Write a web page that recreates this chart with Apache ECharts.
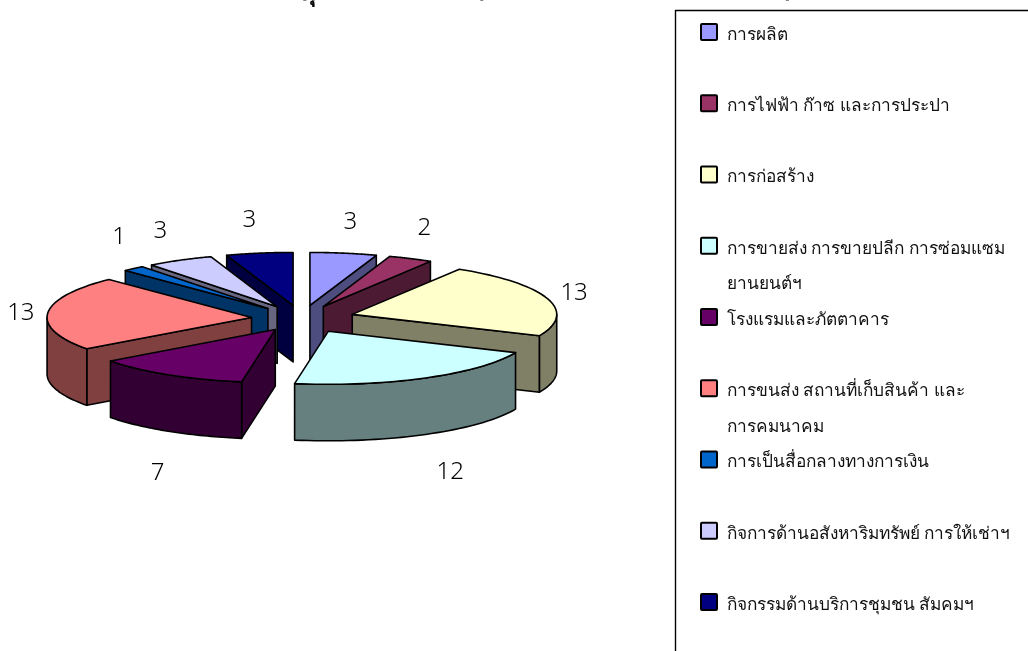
<!DOCTYPE html>
<html>
<head>
<meta charset="utf-8">
<script src="https://cdn.jsdelivr.net/npm/echarts@6/dist/echarts.min.js"></script>
<style>
  html, body { margin: 0; padding: 0; background: #fff; }
  #chart { width: 1028px; height: 651px; }
</style>
</head>
<body>
<div id="chart"></div>
<script>
const categories = [
  'การผลิต',
  'การไฟฟ้า ก๊าซ และการประปา',
  'การก่อสร้าง',
  'การขายส่ง การขายปลีก การซ่อมแซม\nยานยนต์ฯ',
  'โรงแรมและภัตตาคาร',
  'การขนส่ง สถานที่เก็บสินค้า และ\nการคมนาคม',
  'การเป็นสื่อกลางทางการเงิน',
  'กิจการด้านอสังหาริมทรัพย์ การให้เช่าฯ',
  'กิจกรรมด้านบริการชุมชน สัมคมฯ'
]
const values = [3, 2, 13, 12, 7, 13, 1, 3, 3]
const colors = ['#9999FF', '#993366', '#FFFFCC', '#CCFFFF', '#660066', '#FF8080', '#0066CC', '#CCCCFF', '#000080']
const sideColors = ['#4D4D80', '#4D1A33', '#808066', '#668080', '#330033', '#804040', '#003366', '#666680', '#000040']

// how far each slice is pulled out, share of the radius
const explodeShare = [0.25, 0.25, 0.26, 0.275, 0.245, 0.245, 0.25, 0.25, 0.25]
// gap between the exploded rim and each value label, horizontal / vertical
const labelGapX = [41, 32, 30, 57, 19, 26, 22, 41, 61]
const labelGapY = [31, 34, 20, 109, 115, 0, 41, 33, 33]

const cx = 301.5, cy = 318.5, rx = 204.5, ry = 53, depth = 56.5
const total = values.reduce((a, b) => a + b, 0)
const fontName = '"Noto Sans", "DejaVu Sans", sans-serif'

// screen position on the tilted ellipse, angle in radians clockwise from 12 o'clock
const rim = (o, a) => [o[0] + Math.sin(a) * rx, o[1] - Math.cos(a) * ry]
const sumBefore = i => values.slice(0, i).reduce((a, b) => a + b, 0)

function wall(points, fill) {
  return { type: 'polygon', shape: { points }, style: { fill, stroke: '#000', lineWidth: 1.6, lineJoin: 'round' } }
}

function renderSlice(params, api) {
  const value = api.value(0)
  const idx = api.value(1)
  const a0 = sumBefore(idx) / total * Math.PI * 2
  const a1 = (sumBefore(idx) + value) / total * Math.PI * 2
  const mid = (a0 + a1) / 2
  const e = explodeShare[idx]
  const apex = [cx + Math.sin(mid) * rx * e, cy - Math.cos(mid) * ry * e]
  const drop = p => [p[0], p[1] + depth]
  const children = []

  // flat walls, only where the slice lies above the edge on screen
  const inner = rim(apex, mid)
  ;[a0, a1].forEach(a => {
    const p = rim(apex, a)
    if (Math.abs(p[0] - apex[0]) < 1) return
    const edgeY = apex[1] + (p[1] - apex[1]) * (inner[0] - apex[0]) / (p[0] - apex[0])
    if (inner[1] < edgeY) children.push(wall([apex, p, drop(p), drop(apex)], sideColors[idx]))
  })

  // curved wall, front half of the ellipse only
  const from = Math.max(a0, Math.PI / 2)
  const to = Math.min(a1, Math.PI * 1.5)
  if (to > from) {
    const top = [], bottom = []
    for (let i = 0; i <= 40; i++) {
      const p = rim(apex, from + (to - from) * i / 40)
      top.push(p)
      bottom.unshift(drop(p))
    }
    children.push(wall(top.concat(bottom), sideColors[idx]))
  }

  // top face
  const face = [apex]
  for (let i = 0; i <= 40; i++) face.push(rim(apex, a0 + (a1 - a0) * i / 40))
  children.push(wall(face, colors[idx]))

  // value label
  children.push({
    type: 'text',
    style: {
      text: String(value),
      x: cx + Math.sin(mid) * (rx * 1.25 + labelGapX[idx]),
      y: cy - Math.cos(mid) * (ry * 1.25 + labelGapY[idx]),
      align: 'center', verticalAlign: 'middle',
      font: '300 24px ' + fontName, fill: '#000'
    }
  })
  return { type: 'group', children }
}

// back slices first, so that the front ones cover them
const drawOrder = values.map((v, i) => i).sort((a, b) => {
  const depthOf = i => -Math.cos((sumBefore(i) + values[i] / 2) / total * Math.PI * 2)
  return depthOf(a) - depthOf(b)
})

// the legend has uneven wrapped rows on an even pitch, so it is laid out by hand
const legendX = 701, legendFirst = 32, legendPitch = 71.25
const legendGraphics = [{
  type: 'polyline',
  shape: { points: [[1028, 10.5], [675.5, 10.5], [675.5, 651]] },
  style: { stroke: '#000', lineWidth: 1.4, fill: null }
}]
categories.forEach((name, i) => {
  const y = legendFirst + i * legendPitch
  legendGraphics.push({
    type: 'rect',
    shape: { x: legendX, y: y - 8, width: 16, height: 16, r: 1 },
    style: { fill: colors[i], stroke: '#000', lineWidth: 2 }
  })
  legendGraphics.push({
    type: 'text',
    style: {
      text: name, x: legendX + 26, y: y + 3 - 17.75, verticalAlign: 'top',
      font: '17.3px ' + fontName, lineHeight: 35.5, fill: '#111'
    }
  })
})

// the title runs off the top of the page, only its lowest strokes show
const titleBits = [['ทุ', 308, 5], ['(', 480, 2], [')', 789, 2]]
titleBits.forEach(([text, x, y]) => {
  legendGraphics.push({
    type: 'text',
    style: { text, x, y, align: 'center', verticalAlign: 'bottom', font: 'bold 24px ' + fontName, fill: '#000' }
  })
})

const chart = echarts.init(document.getElementById('chart'), null, { renderer: 'canvas' })
chart.setOption({
  animation: false,
  graphic: legendGraphics,
  series: [{
    type: 'custom',
    coordinateSystem: 'none',
    data: drawOrder.map(i => ({ name: categories[i], value: [values[i], i] })),
    renderItem: renderSlice
  }]
})
</script>
</body>
</html>
